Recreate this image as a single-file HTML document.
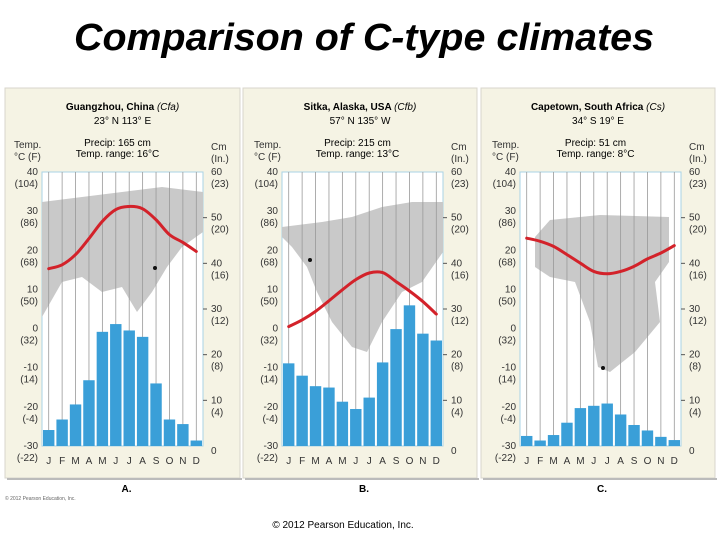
<!DOCTYPE html>
<html><head><meta charset="utf-8"><style>
html,body{margin:0;padding:0;background:#fff;}
svg{display:block;font-family:"Liberation Sans",sans-serif;}
</style></head><body>
<svg id="chart" width="720" height="540" viewBox="0 0 720 540">
<text x="364" y="50" text-anchor="middle" font-size="38" font-weight="bold" font-style="italic" textLength="580" lengthAdjust="spacingAndGlyphs">Comparison of C-type climates</text>
<text x="5" y="500" font-size="5" fill="#666">© 2012 Pearson Education, Inc.</text>
<text x="343" y="528" text-anchor="middle" font-size="10">© 2012 Pearson Education, Inc.</text>
<g id="panels"></g>
</svg>
<script>
const months = ['J','F','M','A','M','J','J','A','S','O','N','D'];
const tempA = [15.3,16.3,18.9,23,27.4,30.4,31.2,30.6,27.8,24,22,19.7];
const precipA = [3.5,5.8,9.1,14.4,25,26.7,25.3,23.9,13.7,5.8,4.8,1.2];
const tempB = [0.5,2.2,4.4,7.1,9.9,12.5,14.2,14.3,12,9.6,6.9,3.7];
const precipB = [18.1,15.4,13.1,12.8,9.7,8.1,10.6,18.3,25.6,30.8,24.6,23.1];
const tempC = [23.1,22.3,21,18.9,16.7,14.6,14,14.6,15.9,17.8,19.3,21.2];
const precipC = [2.2,1.2,2.4,5.1,8.3,8.8,9.3,6.9,4.6,3.4,2,1.3];
const tempTicks = [40,30,20,10,0,-10,-20,-30];
const tempTicksF = ['(104)','(86)','(68)','(50)','(32)','(14)','(-4)','(-22)'];
const cmTicks = [60,50,40,30,20,10,0];
const inTicks = ['(23)','(20)','(16)','(12)','(8)','(4)',''];

const NS='http://www.w3.org/2000/svg';
const root=document.getElementById('panels');
function el(tag,attrs,parent,text){const e=document.createElementNS(NS,tag);for(const k in attrs)e.setAttribute(k,attrs[k]);if(text!==undefined)e.textContent=text;(parent||root).appendChild(e);return e;}

const panels=[
 {card:[5,240],L:42,title:'Guangzhou, China ',cls:'Cfa',coord:'23° N 113° E',precip:'Precip: 165 cm',range:'Temp. range: 16°C',letter:'A.',temp:tempA,pr:precipA,dot:[113,96],
  map:[[0,30],[40,25],[80,20],[120,15],[161,20],[161,60],[140,75],[125,95],[110,120],[95,140],[80,115],[60,120],[40,105],[20,110],[0,145]]},
 {card:[243,477],L:282,title:'Sitka, Alaska, USA ',cls:'Cfb',coord:'57° N 135° W',precip:'Precip: 215 cm',range:'Temp. range: 13°C',letter:'B.',temp:tempB,pr:precipB,dot:[28,88],
  map:[[0,55],[40,50],[70,45],[100,35],[130,30],[161,30],[161,80],[140,110],[120,120],[100,150],[85,180],[70,175],[50,150],[35,120],[25,95],[10,75],[0,65]]},
 {card:[481,715],L:520,title:'Capetown, South Africa ',cls:'Cs',coord:'34° S 19° E',precip:'Precip: 51 cm',range:'Temp. range: 8°C',letter:'C.',temp:tempC,pr:precipC,dot:[83,196],
  map:[[15,65],[30,48],[80,43],[149,45],[149,90],[135,110],[140,150],[115,180],[90,200],[78,195],[70,150],[55,110],[30,105],[15,95]]}
];
const TOP=172,BOT=446,W=161;
const yT=t=>TOP+(40-t)*(BOT-TOP)/70;
const yP=c=>BOT-c*(BOT-TOP)/60;

panels.forEach((p,pi)=>{
 const g=el('g',{});
 
 
 const card=el('rect',{x:p.card[0],y:88,width:p.card[1]-p.card[0],height:390,fill:'#f5f3e4',stroke:'#d8d6cc','stroke-width':1},g);
 
 el('rect',{x:p.card[0]+2,y:478,width:p.card[1]-p.card[0],height:2,fill:'#bbb'},g);
 const cx=(p.card[0]+p.card[1])/2, L=p.L, R=L+W;
 const t=el('text',{x:cx,y:110,'text-anchor':'middle','font-size':10,'font-weight':'bold'},g,p.title);
 
 el('tspan',{'font-weight':'normal','font-style':'italic'},t,'('+p.cls+')');
 el('text',{x:cx,y:124,'text-anchor':'middle','font-size':10},g,p.coord);
 el('text',{x:L+(W/2)-5,y:146,'text-anchor':'middle','font-size':10},g,p.precip);
 el('text',{x:L+(W/2)-5,y:157,'text-anchor':'middle','font-size':10},g,p.range);
 el('text',{x:L-28,y:148,'font-size':10,fill:'#333'},g,'Temp.');
 el('text',{x:L-28,y:160,'font-size':10,fill:'#333'},g,'°C (F)');
 el('text',{x:R+8,y:150,'font-size':10,fill:'#333'},g,'Cm');
 el('text',{x:R+8,y:162,'font-size':10,fill:'#333'},g,'(In.)');
 el('rect',{x:L,y:TOP,width:W,height:BOT-TOP,fill:'#fff',stroke:'#a9d3e6','stroke-width':1},g);
 const pts=p.map.map(q=>(L+q[0])+','+(TOP+q[1])).join(' ');
 el('polygon',{points:pts,fill:'#c9c9c9'},g);
 const cw=W/12;
 for(let i=0;i<12;i++){const x=L+cw*(i+0.5);el('line',{x1:x,x2:x,y1:TOP,y2:BOT,stroke:'#999','stroke-width':0.8},g);}
 p.pr.forEach((v,i)=>{const b=el('rect',{x:L+cw*i+1,y:yP(v),width:cw-2,height:BOT-yP(v),fill:'#3a9fd8'},g);
  });
 const P=p.temp.map((v,i)=>[L+cw*(i+0.5),yT(v)]);
 let d='M'+P[0][0]+','+P[0][1];
 for(let i=0;i<P.length-1;i++){
  const p0=P[Math.max(0,i-1)],p1=P[i],p2=P[i+1],p3=P[Math.min(P.length-1,i+2)];
  const c1=[p1[0]+(p2[0]-p0[0])/6,p1[1]+(p2[1]-p0[1])/6];
  const c2=[p2[0]-(p3[0]-p1[0])/6,p2[1]-(p3[1]-p1[1])/6];
  d+='C'+c1[0]+','+c1[1]+' '+c2[0]+','+c2[1]+' '+p2[0]+','+p2[1];
 }
 const ln=el('path',{d:d,fill:'none',stroke:'#d3222a','stroke-width':3,'stroke-linejoin':'round','stroke-linecap':'round'},g);
 
 el('circle',{cx:L+p.dot[0],cy:TOP+p.dot[1],r:2,fill:'#111'},g);
 tempTicks.forEach((v,i)=>{
  el('text',{x:L-4,y:yT(v)+3,'text-anchor':'end','font-size':10,fill:'#333'},g,String(v));
  el('text',{x:L-4,y:yT(v)+15,'text-anchor':'end','font-size':10,fill:'#333'},g,tempTicksF[i]);
 });
 cmTicks.forEach((v,i)=>{
  if(v>0&&v<60) el('line',{x1:R,x2:R+4,y1:yP(v),y2:yP(v),stroke:'#555'},g);
  el('text',{x:R+8,y:yP(v)+(v===0?8:3),'font-size':10,fill:'#333'},g,String(v));
  if(inTicks[i]) el('text',{x:R+8,y:yP(v)+15,'font-size':10,fill:'#333'},g,inTicks[i]);
 });
 months.forEach((m,i)=>{el('text',{x:L+cw*(i+0.5),y:464,'text-anchor':'middle','font-size':10,fill:'#333'},g,m);});
 el('text',{x:cx+4,y:492,'text-anchor':'middle','font-size':10,'font-weight':'bold'},g,p.letter);
});
</script>
</body></html>
